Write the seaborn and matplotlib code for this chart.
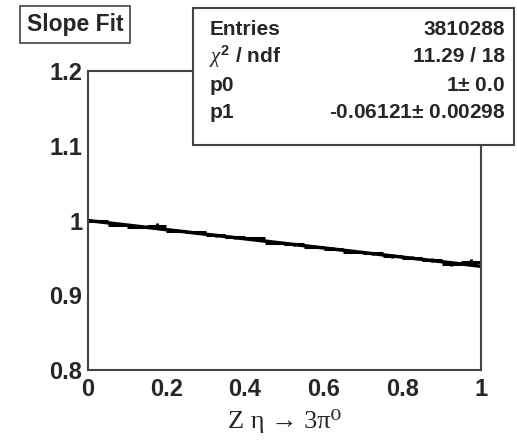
import numpy as np
import pandas as pd
import seaborn as sns
import matplotlib.pyplot as plt
from matplotlib.patches import Rectangle

# Bin centres and contents (20 bins)
bin_centers = [0.025, 0.075, 0.125, 0.175, 0.225, 0.275, 0.325, 0.375, 0.425, 0.475,
               0.525, 0.575, 0.625, 0.675, 0.725, 0.775, 0.825, 0.875, 0.925, 0.975]
bin_values = [0.9990, 0.9945, 0.9915, 0.9930, 0.9865, 0.9840, 0.9800, 0.9775, 0.9760, 0.9700,
              0.9680, 0.9650, 0.9625, 0.9580, 0.9560, 0.9530, 0.9505, 0.9470, 0.9420, 0.9440]
bin_errors = [0.0015, 0.0015, 0.0020, 0.0030, 0.0020, 0.0020, 0.0020, 0.0020, 0.0020, 0.0020,
              0.0020, 0.0020, 0.0020, 0.0020, 0.0020, 0.0025, 0.0025, 0.0030, 0.0035, 0.0040]
bin_half_width = 0.025

# Fit result shown in the stats box
p0 = 1.0
p1 = -0.06121
stat_labels = ["Entries", "$\\chi^2$ / ndf", "p0", "p1"]
stat_values = ["3810288", "11.29 / 18", "1$\\pm$ 0.0", "-0.06121$\\pm$ 0.00298"]

df = pd.DataFrame({"x": bin_centers, "y": bin_values, "err": bin_errors})
fit_x = np.array([0.0, 1.0])
fit_df = pd.DataFrame({"x": fit_x, "y": p0 + p1 * fit_x})

sns.set_style("white")
plt.rcParams['font.family'] = ['Liberation Sans', 'DejaVu Sans']
plt.rcParams['mathtext.fontset'] = 'custom'
plt.rcParams['mathtext.rm'] = 'Liberation Sans:bold'
plt.rcParams['mathtext.it'] = 'Liberation Serif:italic'
plt.rcParams['mathtext.bf'] = 'Liberation Sans:bold'

fig = plt.figure(figsize=(5.17, 4.41), dpi=100)
ax = fig.add_axes([0.170, 0.161, 0.760, 0.678])

# data points with error crosses
ax.errorbar(df["x"], df["y"], xerr=bin_half_width, yerr=df["err"], fmt="none",
            ecolor="black", elinewidth=2.2, capsize=0)
# fit line
sns.lineplot(data=fit_df, x="x", y="y", ax=ax, color="black", linewidth=2.5)

ax.set_xlim(0, 1)
ax.set_ylim(0.8, 1.2)
ax.set_xticks([0, 0.2, 0.4, 0.6, 0.8, 1])
ax.set_xticklabels(["0", "0.2", "0.4", "0.6", "0.8", "1"])
ax.set_yticks([0.8, 0.9, 1.0, 1.1, 1.2])
ax.set_yticklabels(["0.8", "0.9", "1", "1.1", "1.2"])
ax.tick_params(direction="in", length=8, width=1.2, color="#555555", labelsize=17)
ax.tick_params(axis="x", pad=6)
ax.tick_params(axis="y", pad=4)
for lab in ax.get_xticklabels() + ax.get_yticklabels():
    lab.set_fontweight("bold")
for s in ax.spines.values():
    s.set_color("#444444")
    s.set_linewidth(1.5)
ax.set_xlabel("")
ax.set_ylabel("")

fig.text(0.551, 0.046, "Z η \u2192 3π\u2070", ha="center", va="center", fontsize=19,
         family=["Liberation Serif", "DejaVu Serif"])

# title box
fig.text(0.145, 0.945, "Slope Fit", ha="center", va="center", fontsize=16.5,
         fontweight="bold",
         bbox=dict(boxstyle="square,pad=0.3", fc="white", ec="#444444", lw=1.2))

# stats box
bx0, by0, bw, bh = 0.373, 0.671, 0.621, 0.311
fig.patches.append(Rectangle((bx0, by0), bw, bh, transform=fig.transFigure,
                             fc="white", ec="#444444", lw=1.5, zorder=5))
row_y = [0.934, 0.871, 0.807, 0.746]
for lab, val, yy in zip(stat_labels, stat_values, row_y):
    fig.text(bx0 + 0.032, yy, lab, ha="left", va="center", fontsize=15,
             fontweight="bold", zorder=6)
    fig.text(bx0 + bw - 0.017, yy, val, ha="right", va="center", fontsize=15,
             fontweight="bold", zorder=6)

fig.savefig("out.png", dpi=100)
